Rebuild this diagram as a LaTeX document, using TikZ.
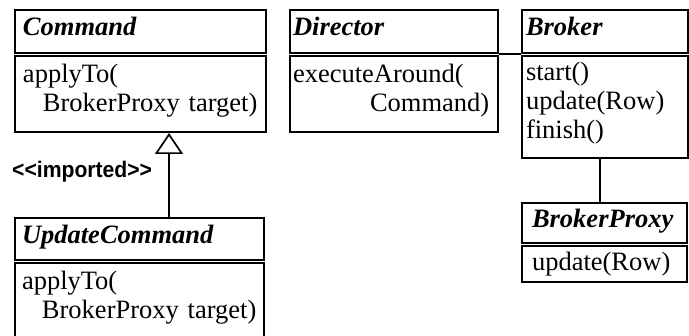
\documentclass[tikz,border=0pt]{standalone}
\usepackage{fontspec}
\setmainfont{Liberation Serif}
\newfontfamily\stereofont[FakeStretch=0.94]{Liberation Sans}
\usetikzlibrary{arrows.meta,positioning}

\tikzset{
  classhead/.style={draw, line width=2pt, anchor=north west, minimum height=43pt,
    inner xsep=8pt, inner ysep=0pt, text height=17pt, text depth=8pt,
    font=\fontsize{26.5}{29}\selectfont\bfseries\itshape},
  classbody/.style={draw, line width=2pt, inner xsep=8pt, inner ysep=0pt,
    align=left, font=\fontsize{26.5}{29}\selectfont},
  % operation lists sit a little high in their box
  oplist/.style={classbody, execute at end node={\par\vspace*{7pt}}},
  stereo/.style={inner sep=0pt, font=\fontsize{22.5}{26}\stereofont\bfseries},
  assoc/.style={line width=1.7pt},
}

\begin{document}
\begin{tikzpicture}[x=1pt, y=-1pt]
    \useasboundingbox (0,0) rectangle (689,336);
    \clip (0,0) rectangle (689,336);

    % Classes
    \node[classhead, text width=235pt] (cmd) at (14,9) {Command};
    \node[oplist, text width=235pt, minimum height=76pt, below=1pt of cmd] (cmdops)
        {applyTo(\\\hspace*{20pt}\mbox{BrokerProxy target)}};

    \node[classhead, inner xsep=7pt, text width=235pt, minimum height=42pt] (upd) at (14,217) {UpdateCommand};
    \node[oplist, inner xsep=7pt, text width=235pt, minimum height=77pt, below=1pt of upd] (updops)
        {applyTo(\\\hspace*{20pt}\mbox{BrokerProxy target)}};

    \node[classhead, inner xsep=3pt, text width=202pt] (dir) at (289,9) {Director};
    \node[oplist, inner xsep=3pt, text width=202pt, minimum height=76pt, below=1pt of dir] (dirops)
        {executeAround(\\\hspace*{77pt}Command)};

    \node[classhead, inner xsep=4pt, text width=158pt] (brk) at (521,9) {Broker};
    \node[oplist, inner xsep=4pt, text width=158pt, minimum height=102pt, below=1pt of brk] (brkops)
        {start()\\update(Row)\\finish()};

    \node[classhead, inner xsep=10pt, text width=145pt, minimum height=40pt] (prx) at (521,202) {BrokerProxy};
    \node[classbody, inner xsep=10pt, text width=145pt, minimum height=36pt, below=1pt of prx] (prxops)
        {update(Row)};

    % Stereotype
    \node[stereo, anchor=base west] (imp) at (12,178) {<\kern0pt<imported>\kern0pt>};

    % Relations
    \coordinate (gx) at (169,0);
    \coordinate (px) at (600,0);
    \draw[assoc, -{Triangle[open, length=21pt, width=28pt]}] (upd.north -| gx) -- (cmdops.south -| gx);
    \draw[assoc] (dir.south east) -- (brk.south west);
    \draw[assoc] (brkops.south -| px) -- (prx.north -| px);
\end{tikzpicture}
\end{document}
